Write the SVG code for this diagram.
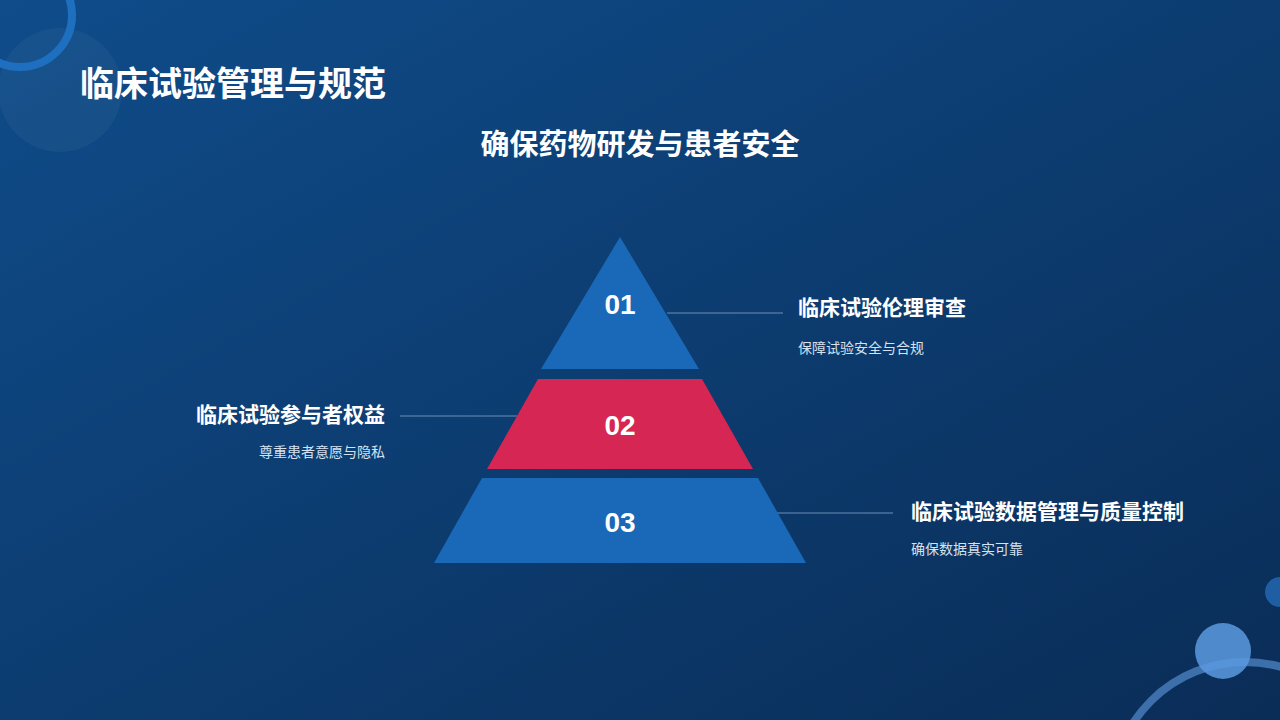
<svg xmlns="http://www.w3.org/2000/svg" width="1280" height="720" viewBox="0 0 1280 720">
<defs>
<linearGradient id="bg" x1="0" y1="0" x2="1" y2="1">
<stop offset="0" stop-color="#0f4c8a"/><stop offset="1" stop-color="#0a2d57"/>
</linearGradient>
<style>
text{font-family:"Noto Sans CJK SC","Noto Sans",sans-serif;fill:#fff}
.h{font-size:21px;font-weight:bold}
.s{font-size:14px;fill:#d6e2f0}
.n{font-size:28px;font-weight:bold;text-anchor:middle;font-family:"Liberation Sans",Arial,sans-serif}
.ln{stroke:#6d8fb8;stroke-width:1}
</style>
</defs>
<rect width="1280" height="720" fill="url(#bg)"/>
<circle cx="60" cy="90" r="62" fill="#ffffff" opacity="0.04"/>
<circle cx="20" cy="15" r="52" fill="none" stroke="#1e6fc0" stroke-width="8"/>
<circle cx="1280" cy="592" r="15" fill="#1f5ea3"/>
<circle cx="1245" cy="795" r="133" fill="none" stroke="#4a7fbe" stroke-width="8" opacity="0.8"/>
<circle cx="1223" cy="651" r="28" fill="#5a9ae0" opacity="0.85"/>
<text x="80" y="96" style="font-size:34px;font-weight:bold">临床试验管理与规范</text>
<text x="640" y="155" text-anchor="middle" style="font-size:29px;font-weight:bold">确保药物研发与患者安全</text>
<g id="connectors">
<line class="ln" x1="667" y1="313" x2="783" y2="313"/>
<line class="ln" x1="400" y1="416" x2="517" y2="416"/>
<line class="ln" x1="775" y1="513" x2="893" y2="513"/>
</g>
<g id="n1"><polygon points="620,237 541,369 699,369" fill="#1a68b8"/><text class="n" x="620" y="314">01</text></g>
<g id="n2"><polygon points="538,379 702,379 753,469 487,469" fill="#d62653"/><text class="n" x="620" y="435">02</text></g>
<g id="n3"><polygon points="482,478 758,478 806,563 434,563" fill="#1a68b8"/><text class="n" x="620" y="532">03</text></g>
<g id="t1"><text class="h" x="798" y="315">临床试验伦理审查</text><text class="s" x="798" y="353">保障试验安全与合规</text></g>
<g id="t2"><text class="h" x="385" y="422" text-anchor="end">临床试验参与者权益</text><text class="s" x="385" y="457" text-anchor="end">尊重患者意愿与隐私</text></g>
<g id="t3"><text class="h" x="911" y="519">临床试验数据管理与质量控制</text><text class="s" x="911" y="554">确保数据真实可靠</text></g>
</svg>
